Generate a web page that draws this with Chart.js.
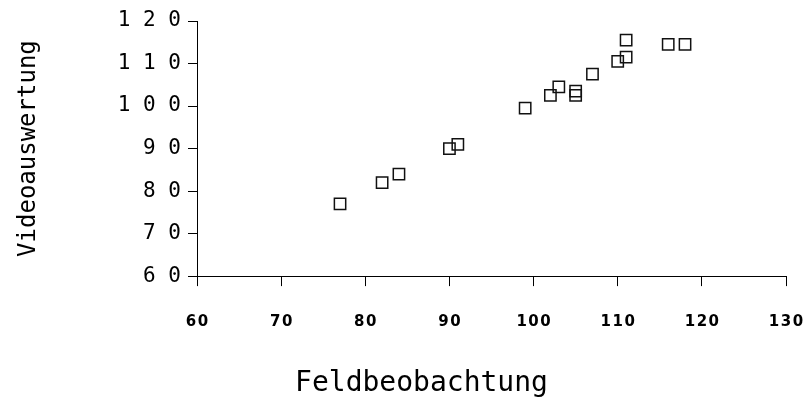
<!DOCTYPE html>
<html>
<head>
<meta charset="utf-8">
<script src="https://cdn.jsdelivr.net/npm/chart.js@4.4.1/dist/chart.umd.min.js"></script>
<style>
    html, body { margin: 0; padding: 0; background: #fff; }
    #wrap { width: 803px; height: 416px; }
</style>
</head>
<body>
<div id="wrap"><canvas id="chart" width="803" height="416"></canvas></div>
<script>
// Feldbeobachtung (x) vs. Videoauswertung (y)
const feldbeobachtung = [77, 82, 84, 90, 91, 99, 102, 103, 105, 105, 107, 110, 111, 111, 116, 118];
const videoauswertung = [77, 82, 84, 90, 91, 99.5, 102.5, 104.5, 103.5, 102.5, 107.5, 110.5, 111.5, 115.5, 114.5, 114.5];

const xTitle = "Feldbeobachtung";
const yTitle = "Videoauswertung";

const xRange = [60, 130];
const yRange = [60, 120];
const tickStep = 10;

const points = feldbeobachtung.map((x, i) => ({ x, y: videoauswertung[i] }));

const MONO = "'DejaVu Sans Mono', monospace";
const LEFT_PAD = 40; // shifts the bottom title to the right

const data = {
    datasets: [
        {
            label: "Messung",
            data: points,
            pointStyle: "rect",
            pointRadius: 8,
            pointHoverRadius: 8,
            borderColor: "#111",
            backgroundColor: "rgba(0,0,0,0)",
            borderWidth: 1.5,
            showLine: false
        }
    ]
};

const options = {
    responsive: false,
    animation: false,
    layout: { padding: { left: LEFT_PAD, right: 0, top: 21, bottom: 0 } },
    scales: {
        x: {
            type: "linear",
            min: xRange[0],
            max: xRange[1],
            afterFit: (scale) => {
                scale.height = 91.3;
                scale.paddingRight = 17; // tick padding would otherwise be added here
            },
            border: { display: true, color: "#000", width: 1 },
            grid: { drawOnChartArea: false, drawTicks: true, tickLength: 10, tickColor: "#000", tickWidth: 1 },
            ticks: {
                stepSize: tickStep,
                color: "#000",
                padding: 27,
                maxRotation: 0,
                font: { family: "'DejaVu Sans', sans-serif", size: 15, weight: "bold" },
                callback: (v) => String(v).split("").join("\u200A")
            }
        },
        y: {
            type: "linear",
            min: yRange[0],
            max: yRange[1],
            afterFit: (scale) => { scale.width = 197 - LEFT_PAD; },
            border: { display: true, color: "#000", width: 1 },
            grid: { drawOnChartArea: false, drawTicks: true, tickLength: 9, tickColor: "#000", tickWidth: 1 },
            ticks: {
                stepSize: tickStep,
                color: "#000",
                padding: 7,
                font: { family: MONO, size: 21 },
                callback: (v) => String(v).split("").join(" ")
            },
            title: {
                display: true,
                text: yTitle,
                color: "#000",
                padding: { top: 14 - LEFT_PAD, bottom: 0 },
                font: { family: MONO, size: 24 }
            }
        }
    },
    plugins: {
        legend: { display: false },
        tooltip: { enabled: false },
        title: {
            display: true,
            position: "bottom",
            text: xTitle,
            color: "#000",
            padding: { top: 0, bottom: 15 },
            font: { family: MONO, size: 28, weight: "normal" }
        }
    }
};

new Chart(document.getElementById("chart"), { type: "scatter", data, options });
</script>
</body>
</html>
